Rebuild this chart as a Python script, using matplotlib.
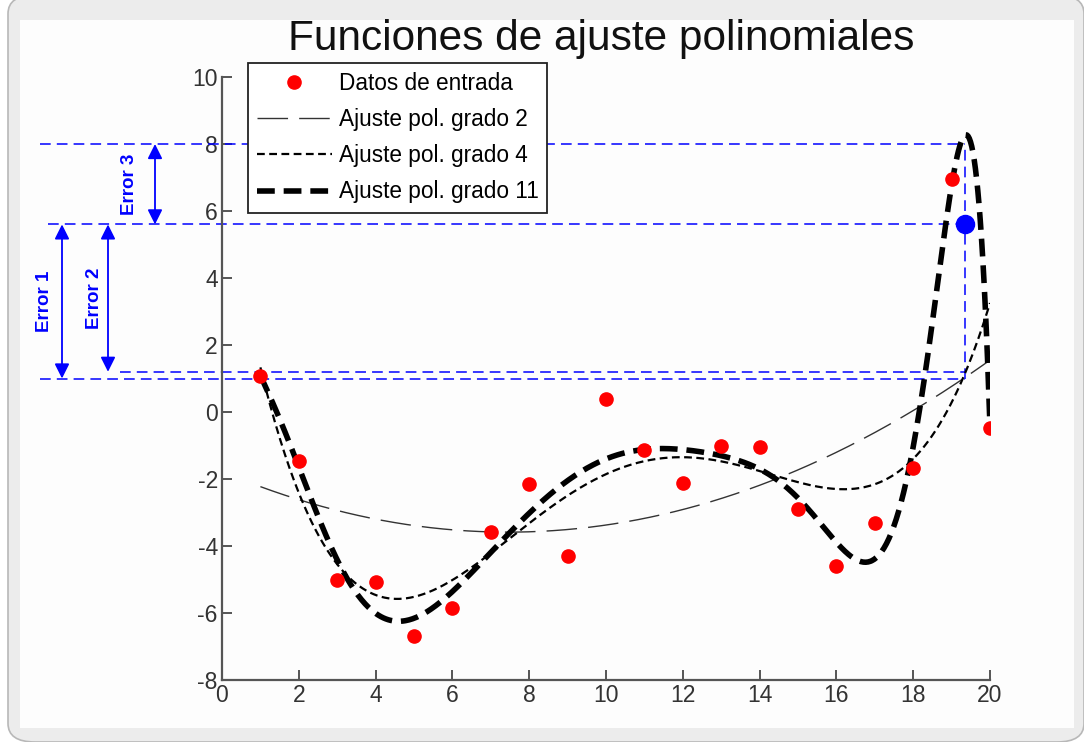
import numpy as np
import matplotlib
matplotlib.use("Agg")
import matplotlib.pyplot as plt
from matplotlib.patches import FancyBboxPatch, Rectangle

plt.rcParams["axes.unicode_minus"] = False

# Input data
x_data = np.arange(1, 21)
y_data = [1.07, -1.46, -5.01, -5.06, -6.68, -5.86, -3.59, -2.16, -4.29, 0.38,
          -1.13, -2.11, -1.00, -1.05, -2.90, -4.60, -3.32, -1.68, 6.95, -0.47]

# Polynomial degrees to fit
degrees = [2, 4, 11]
fit_labels = ["Ajuste pol. grado 2", "Ajuste pol. grado 4", "Ajuste pol. grado 11"]

# Error illustration at a test abscissa
x_test = 19.35
y_true = 5.6
y_pred = [1.0, 1.2, 8.0]          # grado 2, grado 4, grado 11
error_labels = ["Error 1", "Error 2", "Error 3"]

x_ticks = list(range(0, 21, 2))
y_ticks = list(range(-8, 11, 2))

W, H = 1084, 742
fig = plt.figure(figsize=(W / 100, H / 100), dpi=100)
fig.patch.set_facecolor("white")

# window frame
frame = FancyBboxPatch((8 / W, 0), (W - 8) / W, (H - 10) / H + 0.02,
                       boxstyle="round,pad=0,rounding_size=0.025",
                       transform=fig.transFigure, facecolor="#ececec",
                       edgecolor="#b8b8b8", linewidth=1.2, zorder=-10)
fig.add_artist(frame)
fig.add_artist(Rectangle((20 / W, 14 / H), (1074 - 20) / W, (H - 14 - 20) / H,
                         transform=fig.transFigure, facecolor="#fdfdfd",
                         edgecolor="none", zorder=-9))

ax = fig.add_axes([222 / W, 1 - 680 / H, (990 - 222) / W, (680 - 77) / H])
ax.set_facecolor("none")
ax.set_xlim(0, 20)
ax.set_ylim(-8, 10)

xs = np.linspace(1, 20, 600)
fits = []
for d in degrees:
    p = np.polynomial.Polynomial.fit(x_data, y_data, d)
    fits.append(p(xs))

ax.plot(xs, fits[0], color="#333333", lw=1.0, dashes=(22, 8), label=fit_labels[0], zorder=3)
ax.plot(xs, fits[1], color="black", lw=1.6, dashes=(3.5, 2), label=fit_labels[1], zorder=3)
ax.plot(xs, fits[2], color="black", lw=4.0, dashes=(3.2, 1.6), label=fit_labels[2], zorder=4)
ax.plot(x_data, y_data, "o", color="red", ms=9.5, mec="red", label="Datos de entrada", zorder=5)

# error guides
blue = "#0000ff"
px = lambda p: (p - 222) / 38.4
starts = {8.0: px(40), y_true: px(48), 1.2: px(120), 1.0: px(40)}
for yv, xs0 in starts.items():
    ax.plot([xs0, x_test], [yv, yv], color=blue, lw=1.1, dashes=(7, 4),
            clip_on=False, zorder=2)
ax.plot([x_test, x_test], [min(y_pred), max(y_pred)], color=blue, lw=1.1,
        dashes=(7, 4), zorder=2)
ax.plot([x_test], [y_true], "o", color=blue, ms=13, zorder=6)

arrow_x = [px(62), px(108), px(155)]
label_x = [px(45), px(95), px(130)]
for i in range(3):
    ax.annotate("", xy=(arrow_x[i], y_pred[i]), xytext=(arrow_x[i], y_true),
                arrowprops=dict(arrowstyle="<|-|>", color=blue, lw=1.3,
                                mutation_scale=22, shrinkA=0, shrinkB=0),
                annotation_clip=False)
    ax.text(label_x[i], (y_true + y_pred[i]) / 2, error_labels[i], rotation=90,
            color=blue, fontsize=13.5, fontweight="bold", ha="center", va="center",
            family=["Liberation Sans", "DejaVu Sans"], clip_on=False)

# axes styling
for s in ["top", "right"]:
    ax.spines[s].set_visible(False)
for s in ["left", "bottom"]:
    ax.spines[s].set_color("#555555")
    ax.spines[s].set_linewidth(1.6)
ax.set_xticks(x_ticks)
ax.set_yticks(y_ticks)
ax.tick_params(direction="in", length=7, width=1.4, color="#555555",
               labelsize=16.5, labelcolor="#333333", pad=3)
for lab in ax.get_xticklabels() + ax.get_yticklabels():
    lab.set_family(["Liberation Sans Narrow", "Liberation Sans", "DejaVu Sans"])

fig.text(601 / W, 1 - 39 / H, "Funciones de ajuste polinomiales", ha="center",
         va="center", fontsize=30.5, color="#111111",
         family=["Liberation Sans", "DejaVu Sans"])

handles, labels = ax.get_legend_handles_labels()
order = [3, 0, 1, 2]
leg = ax.legend([handles[i] for i in order], [labels[i] for i in order],
                loc="upper left", bbox_to_anchor=(248 / W, 1 - 63 / H),
                bbox_transform=fig.transFigure, frameon=True, fancybox=False,
                edgecolor="#222222", framealpha=1, borderpad=0.4,
                borderaxespad=0, labelspacing=0.58, handlelength=3.3,
                handletextpad=0.3,
                prop={"family": ["Liberation Sans", "DejaVu Sans"], "size": 16.3})
leg.get_frame().set_linewidth(1.3)
leg.set_zorder(10)

fig.savefig("out.png", dpi=100)
